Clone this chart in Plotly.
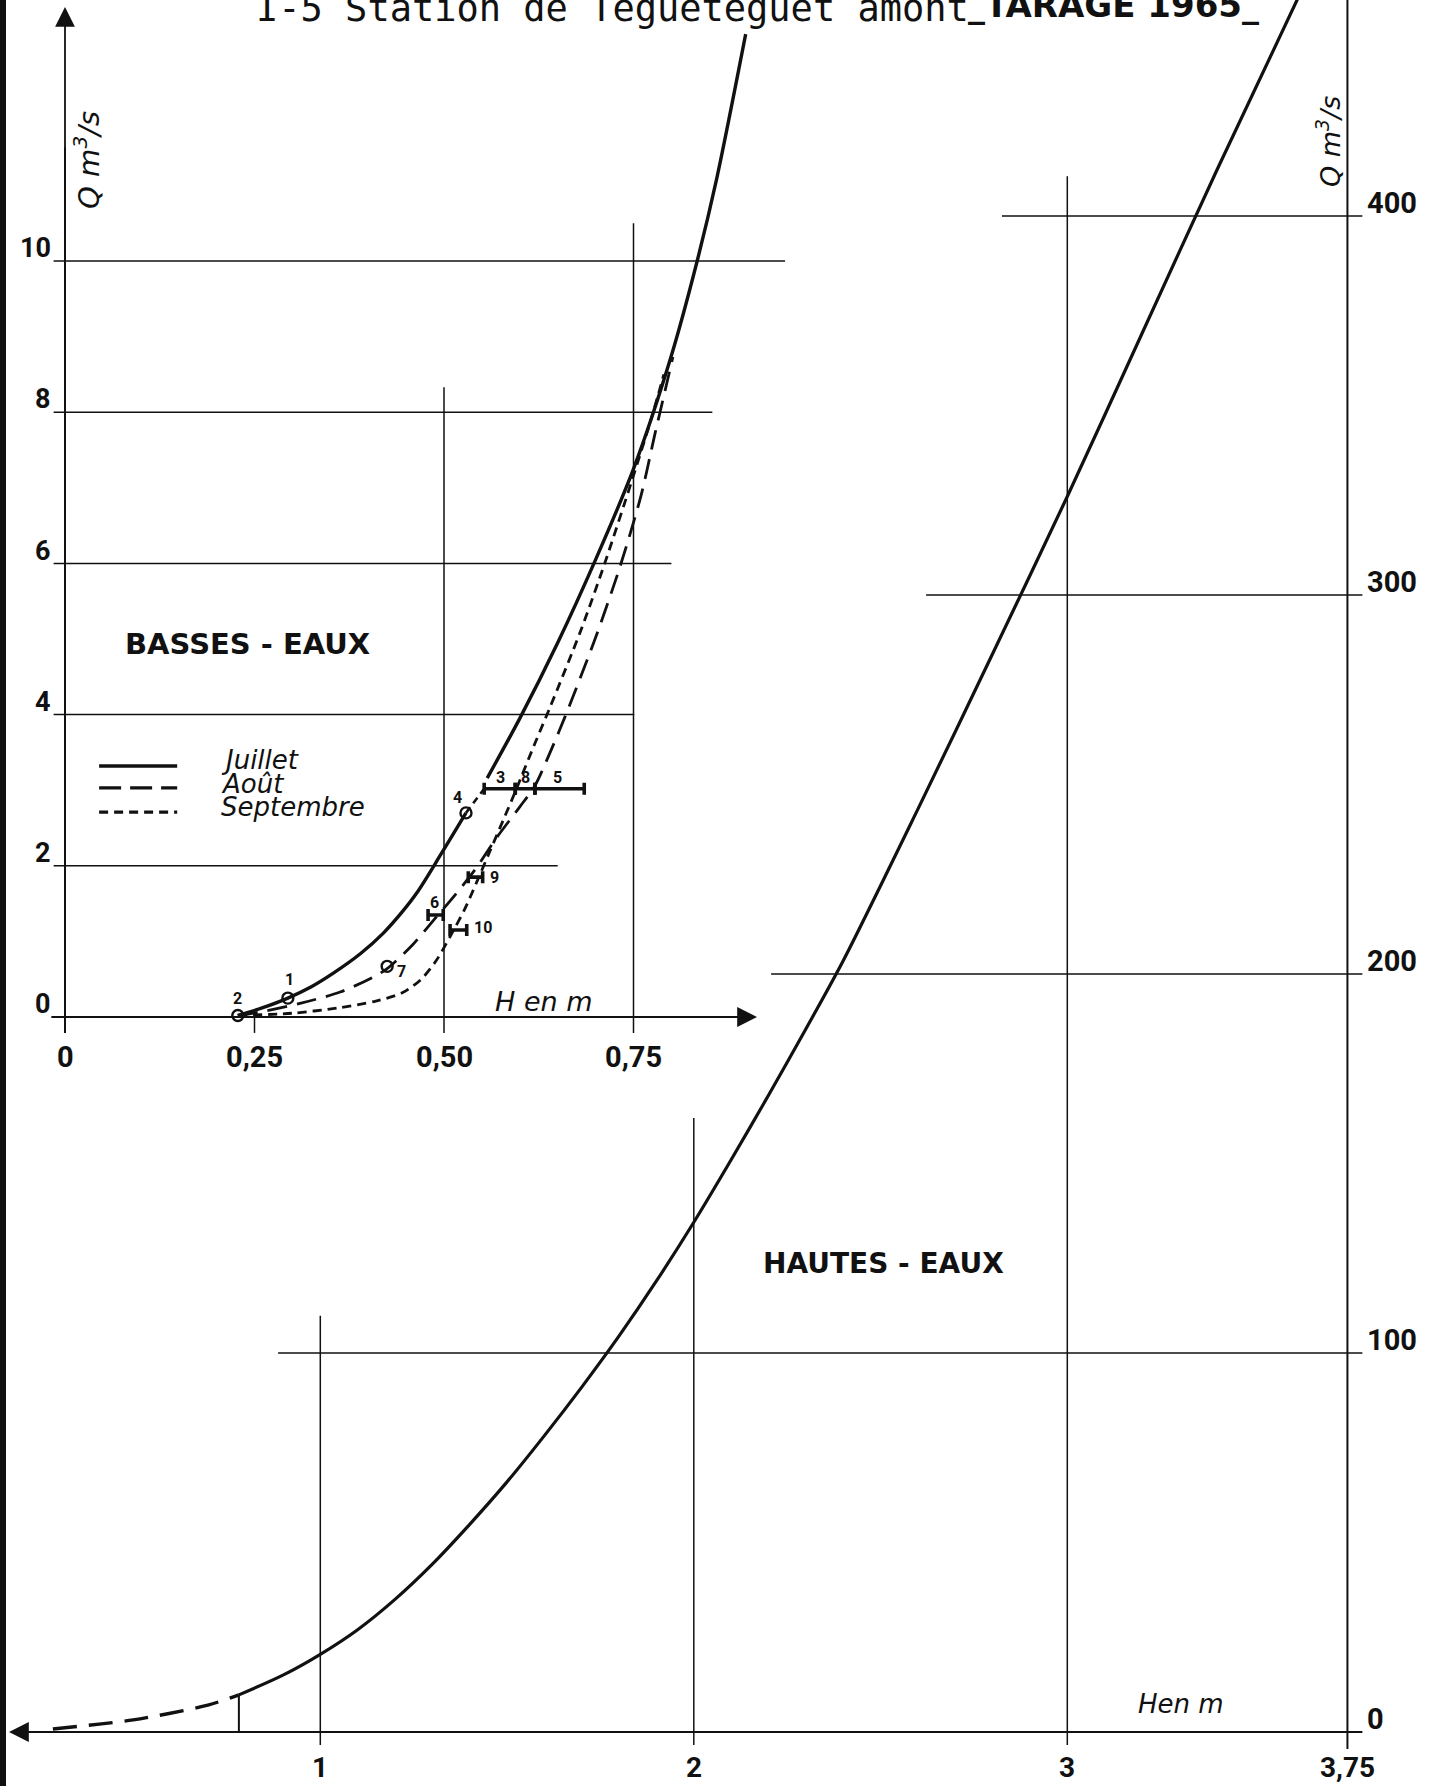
import plotly.graph_objects as go

# ---------------- DATA ----------------
# Basses-eaux (small chart): H en m, Q en m3/s
H_juillet = [0.228, 0.260, 0.294, 0.325, 0.354, 0.390, 0.420, 0.444, 0.464, 0.497, 0.529]
Q_juillet = [0.02, 0.12, 0.25, 0.40, 0.58, 0.84, 1.11, 1.38, 1.64, 2.17, 2.70]
H_juillet_incertain = [0.529, 0.553]
Q_juillet_incertain = [2.70, 3.02]
H_juillet_haut = [0.557, 0.600, 0.650, 0.700, 0.750, 0.800, 0.834, 0.860, 0.898]
Q_juillet_haut = [3.16, 3.95, 4.95, 6.05, 7.25, 8.75, 10.00, 11.10, 13.00]

H_aout = [0.228, 0.260, 0.310, 0.363, 0.407, 0.425, 0.459, 0.488, 0.515, 0.541, 0.570,
          0.600, 0.620, 0.640, 0.660, 0.700, 0.732, 0.760, 0.778, 0.792, 0.802]
Q_aout = [0.02, 0.07, 0.18, 0.33, 0.53, 0.64, 0.96, 1.30, 1.62, 1.95, 2.38,
          2.78, 3.06, 3.50, 3.98, 5.02, 5.95, 6.90, 7.70, 8.30, 8.73]

H_sept = [0.228, 0.300, 0.360, 0.410, 0.445, 0.470, 0.490, 0.510, 0.527, 0.543, 0.560,
          0.578, 0.594, 0.620, 0.640, 0.680, 0.712, 0.748, 0.776, 0.790]
Q_sept = [0.02, 0.05, 0.12, 0.21, 0.32, 0.50, 0.75, 1.10, 1.42, 1.78, 2.18,
          2.60, 2.98, 3.62, 4.10, 5.10, 6.00, 7.10, 8.00, 8.50]

# Jaugeages ponctuels (cercles)
pt_labels = ["1", "2", "4", "7"]
pt_H = [0.294, 0.228, 0.529, 0.425]
pt_Q = [0.25, 0.02, 2.70, 0.67]

# Jaugeages en intervalle (barres)
bar_labels = ["6", "9", "10", "3", "8", "5"]
bar_Hmin = [0.479, 0.532, 0.508, 0.553, 0.594, 0.620]
bar_Hmax = [0.499, 0.551, 0.530, 0.594, 0.620, 0.685]
bar_Q = [1.35, 1.85, 1.15, 3.02, 3.02, 3.02]

# Hautes-eaux (main chart)
H_hautes_extrap = [0.284, 0.499, 0.699, 0.782]
Q_hautes_extrap = [0.8, 3.2, 7.1, 9.8]
H_hautes = [0.782, 0.90, 1.00, 1.10, 1.20, 1.30, 1.40, 1.50, 1.60, 1.70, 1.80, 1.90, 2.00,
            2.10, 2.20, 2.30, 2.40, 2.60, 2.80, 3.00, 3.20, 3.40, 3.62]
Q_hautes = [9.8, 15.0, 20.5, 27.0, 35.0, 44.3, 54.8, 66.0, 78.2, 91.0, 104.5, 119.0, 134.5,
            151.0, 168.0, 185.5, 203.5, 243.5, 284.5, 326.0, 369.0, 412.0, 458.0]

# Ticks
small_xticks = [0, 0.25, 0.50, 0.75]
small_xtick_labels = ["0", "0,25", "0,50", "0,75"]
small_yticks = [0, 2, 4, 6, 8, 10]
small_ytick_labels = ["0", "2", "4", "6", "8", "10"]
main_xticks = [1, 2, 3, 3.75]
main_xtick_labels = ["1", "2", "3", "3,75"]
main_yticks = [0, 100, 200, 300, 400]
main_ytick_labels = ["0", "100", "200", "300", "400"]

# Grid segments
small_grid_Q = [2, 4, 6, 8, 10]
small_grid_Hend = [0.650, 0.751, 0.800, 0.854, 0.950]
small_vgrid_H = [0.50, 0.75]
small_vgrid_Qtop = [8.33, 10.50]
main_grid_Q = [100, 200, 300, 400]
main_grid_Hstart = [0.887, 2.207, 2.622, 2.825]
main_vgrid_H = [1, 2, 3]
main_vgrid_Qtop = [109.8, 162.0, 410.5]

# ---------------- FIGURE ----------------
W, Hpx = 1432, 1786
# pixel calibration of both coordinate systems
s_x0, s_xk = 65.0, 758.0      # small: px = s_x0 + s_xk*H
s_y0, s_yk = 1017.0, 75.6     # small: py = s_y0 - s_yk*Q
m_x0, m_xk = -53.2, 373.5     # main
m_y0, m_yk = 1732.0, 3.79

BLACK = "#111111"
fig = go.Figure()

def seg(xs, ys, axes, width=1.6, dash="solid", shape="linear", color=BLACK, smoothing=0.8):
    xa, ya = axes
    fig.add_trace(go.Scatter(x=xs, y=ys, mode="lines", xaxis=xa, yaxis=ya,
                             line=dict(color=color, width=width, dash=dash, shape=shape,
                                       smoothing=smoothing),
                             hoverinfo="skip", showlegend=False))

S = ("x", "y")
M = ("x2", "y2")

# --- small chart grid ---
gx, gy = [], []
for q, he in zip(small_grid_Q, small_grid_Hend):
    gx += [-0.015, he, None]; gy += [q, q, None]
for h, qt in zip(small_vgrid_H, small_vgrid_Qtop):
    gx += [h, h, None]; gy += [-0.21, qt, None]
gx += [0.25, 0.25, None]; gy += [0, -0.21, None]
seg(gx, gy, S, width=1.5)
# small axes
seg([-0.018, 0.80], [0, 0], S, width=2.0)
seg([0, 0], [-0.21, 11.5], S, width=2.0)

# --- main chart grid ---
gx, gy = [], []
for q, hs in zip(main_grid_Q, main_grid_Hstart):
    gx += [hs, 3.79, None]; gy += [q, q, None]
for h, qt in zip(main_vgrid_H, main_vgrid_Qtop):
    gx += [h, h, None]; gy += [-3.4, qt, None]
seg(gx, gy, M, width=1.5)
seg([3.75, 3.75], [-4.5, 457], M, width=2.0)
seg([0.5, 3.79], [0, 0], M, width=2.0)
seg([0.782, 0.782], [0, 9.8], M, width=2.0)

# --- main curve ---
seg(H_hautes_extrap, Q_hautes_extrap, M, width=3.4, dash="24px,12px", shape="spline")
seg(H_hautes, Q_hautes, M, width=3.2, shape="spline")

# --- small curves ---
seg(H_juillet, Q_juillet, S, width=3.4, shape="spline", smoothing=1.0)
seg(H_juillet_incertain, Q_juillet_incertain, S, width=2.6, dash="7px,5px")
seg(H_juillet_haut, Q_juillet_haut, S, width=3.4, shape="spline")
seg(H_aout, Q_aout, S, width=2.8, dash="20px,10px", shape="spline")
seg(H_sept, Q_sept, S, width=2.8, dash="9px,6px", shape="spline")

# jaugeages circles
fig.add_trace(go.Scatter(x=pt_H, y=pt_Q, mode="markers", xaxis="x", yaxis="y",
                         marker=dict(symbol="circle-open", size=11, color=BLACK, line=dict(width=2.4)),
                         hoverinfo="skip", showlegend=False))
# jaugeages bars
bar_c = [(a + b) / 2 for a, b in zip(bar_Hmin, bar_Hmax)]
bar_e = [(b - a) / 2 for a, b in zip(bar_Hmin, bar_Hmax)]
fig.add_trace(go.Scatter(x=bar_c, y=bar_Q, mode="markers", xaxis="x", yaxis="y",
                         marker=dict(size=1, color="rgba(0,0,0,0)"),
                         error_x=dict(type="data", array=bar_e, symmetric=True,
                                      thickness=3.6, width=6, color=BLACK),
                         hoverinfo="skip", showlegend=False))

# legend (drawn)
seg([0.045, 0.148], [3.32, 3.32], S, width=3.6)
seg([0.045, 0.148], [3.03, 3.03], S, width=3.2, dash="22px,9px")
seg([0.045, 0.148], [2.71, 2.71], S, width=3.2, dash="9px,6px")

annotations = []

def txt(text, x, y, xref, yref, size, family="Roboto", weight="bold", style="normal",
        xanchor="center", yanchor="middle", angle=0):
    annotations.append(dict(text=text, x=x, y=y, xref=xref, yref=yref, showarrow=False,
                            xanchor=xanchor, yanchor=yanchor, textangle=angle,
                            font=dict(family=family, size=size, color=BLACK,
                                      weight=weight, style=style)))

# tick labels small
for v, lab in zip(small_xticks, small_xtick_labels):
    txt(lab, v, -0.53, "x", "y", 29)
for v, lab in zip(small_yticks, small_ytick_labels):
    txt(lab, -0.016, v - 0.07, "x", "y", 27, xanchor="right", yanchor="bottom")
# tick labels main
for v, lab in zip(main_xticks, main_xtick_labels):
    txt(lab, v, -9.4, "x2", "y2", 28)
for v, lab in zip(main_yticks, main_ytick_labels):
    txt(lab, 3.797, v - 1.6, "x2", "y2", 29, xanchor="left", yanchor="bottom")

# point labels
lab_pos = {"2": (0.228, 0.25), "1": (0.296, 0.49), "7": (0.444, 0.60), "4": (0.518, 2.91),
           "6": (0.488, 1.51), "10": (0.551, 1.19), "9": (0.567, 1.84),
           "3": (0.575, 3.17), "8": (0.607, 3.17), "5": (0.650, 3.17)}
for k, (x, y) in lab_pos.items():
    txt(k, x, y, "x", "y", 16)

# axis titles
txt("<i>Q m<sup>3</sup>/s</i>", 0.028, 11.34, "x", "y", 29, family="DejaVu Sans", weight="normal", angle=-90)
txt("<i>Q m<sup>3</sup>/s</i>", 3.698, 419.5, "x2", "y2", 27, family="DejaVu Sans", weight="normal", angle=-90)
txt("<i>H en m</i>", 0.632, 0.20, "x", "y", 27, family="DejaVu Sans", weight="normal")
txt("<i>Hen m</i>", 3.304, 7.4, "x2", "y2", 26, family="DejaVu Sans", weight="normal")

# legend labels
txt("<i>Juillet</i>", 0.203, 3.40, "x", "y", 26, family="DejaVu Sans", weight="normal", xanchor="left")
txt("<i>Août</i>", 0.203, 3.08, "x", "y", 26, family="DejaVu Sans", weight="normal", xanchor="left")
txt("<i>Septembre</i>", 0.203, 2.78, "x", "y", 26, family="DejaVu Sans", weight="normal", xanchor="left")

# region labels
txt("BASSES - EAUX", 0.241, 4.93, "x", "y", 29, family="DejaVu Sans")
txt("HAUTES - EAUX", 2.507, 123.5, "x2", "y2", 28, family="DejaVu Sans")

# title (partially cut at top as in the scan)
txt("I-5 Station de Teguetéguet amont", 254 / W, 1 - 32 / Hpx, "paper", "paper", 37,
    family="DejaVu Sans Mono", weight="normal", xanchor="left", yanchor="bottom")
txt("_TARAGE 1965_", 966 / W, 1 - 27 / Hpx, "paper", "paper", 34,
    family="DejaVu Sans", weight="bold", xanchor="left", yanchor="bottom")

# arrows
arrow = dict(showarrow=True, arrowhead=2, arrowsize=2.2, arrowwidth=1.8, arrowcolor=BLACK,
             text="", standoff=0)
annotations.append(dict(arrow, x=0, y=(s_y0 - 7) / s_yk, ax=0, ay=11.0,
                        xref="x", yref="y", axref="x", ayref="y"))
annotations.append(dict(arrow, x=(757 - s_x0) / s_xk, y=0, ax=0.70, ay=0,
                        xref="x", yref="y", axref="x", ayref="y"))
annotations.append(dict(arrow, x=(9 - m_x0) / m_xk, y=0, ax=0.6, ay=0,
                        xref="x2", yref="y2", axref="x2", ayref="y2"))

fig.update_layout(
    width=W, height=Hpx,
    margin=dict(l=0, r=0, t=0, b=0),
    paper_bgcolor="white", plot_bgcolor="white",
    showlegend=False,
    xaxis=dict(range=[(0 - s_x0) / s_xk, (W - s_x0) / s_xk], visible=False, domain=[0, 1]),
    yaxis=dict(range=[(s_y0 - Hpx) / s_yk, s_y0 / s_yk], visible=False, domain=[0, 1]),
    xaxis2=dict(range=[(0 - m_x0) / m_xk, (W - m_x0) / m_xk], visible=False,
                overlaying="x", side="top", domain=[0, 1]),
    yaxis2=dict(range=[(m_y0 - Hpx) / m_yk, m_y0 / m_yk], visible=False,
                overlaying="y", side="right", domain=[0, 1]),
    annotations=annotations,
    shapes=[dict(type="line", xref="paper", yref="paper", x0=3 / W, x1=3 / W, y0=0, y1=1,
                 line=dict(color=BLACK, width=6))],
)

fig.write_html("out.html", config={"displayModeBar": False},
               post_script="document.body.style.margin='0px';")
